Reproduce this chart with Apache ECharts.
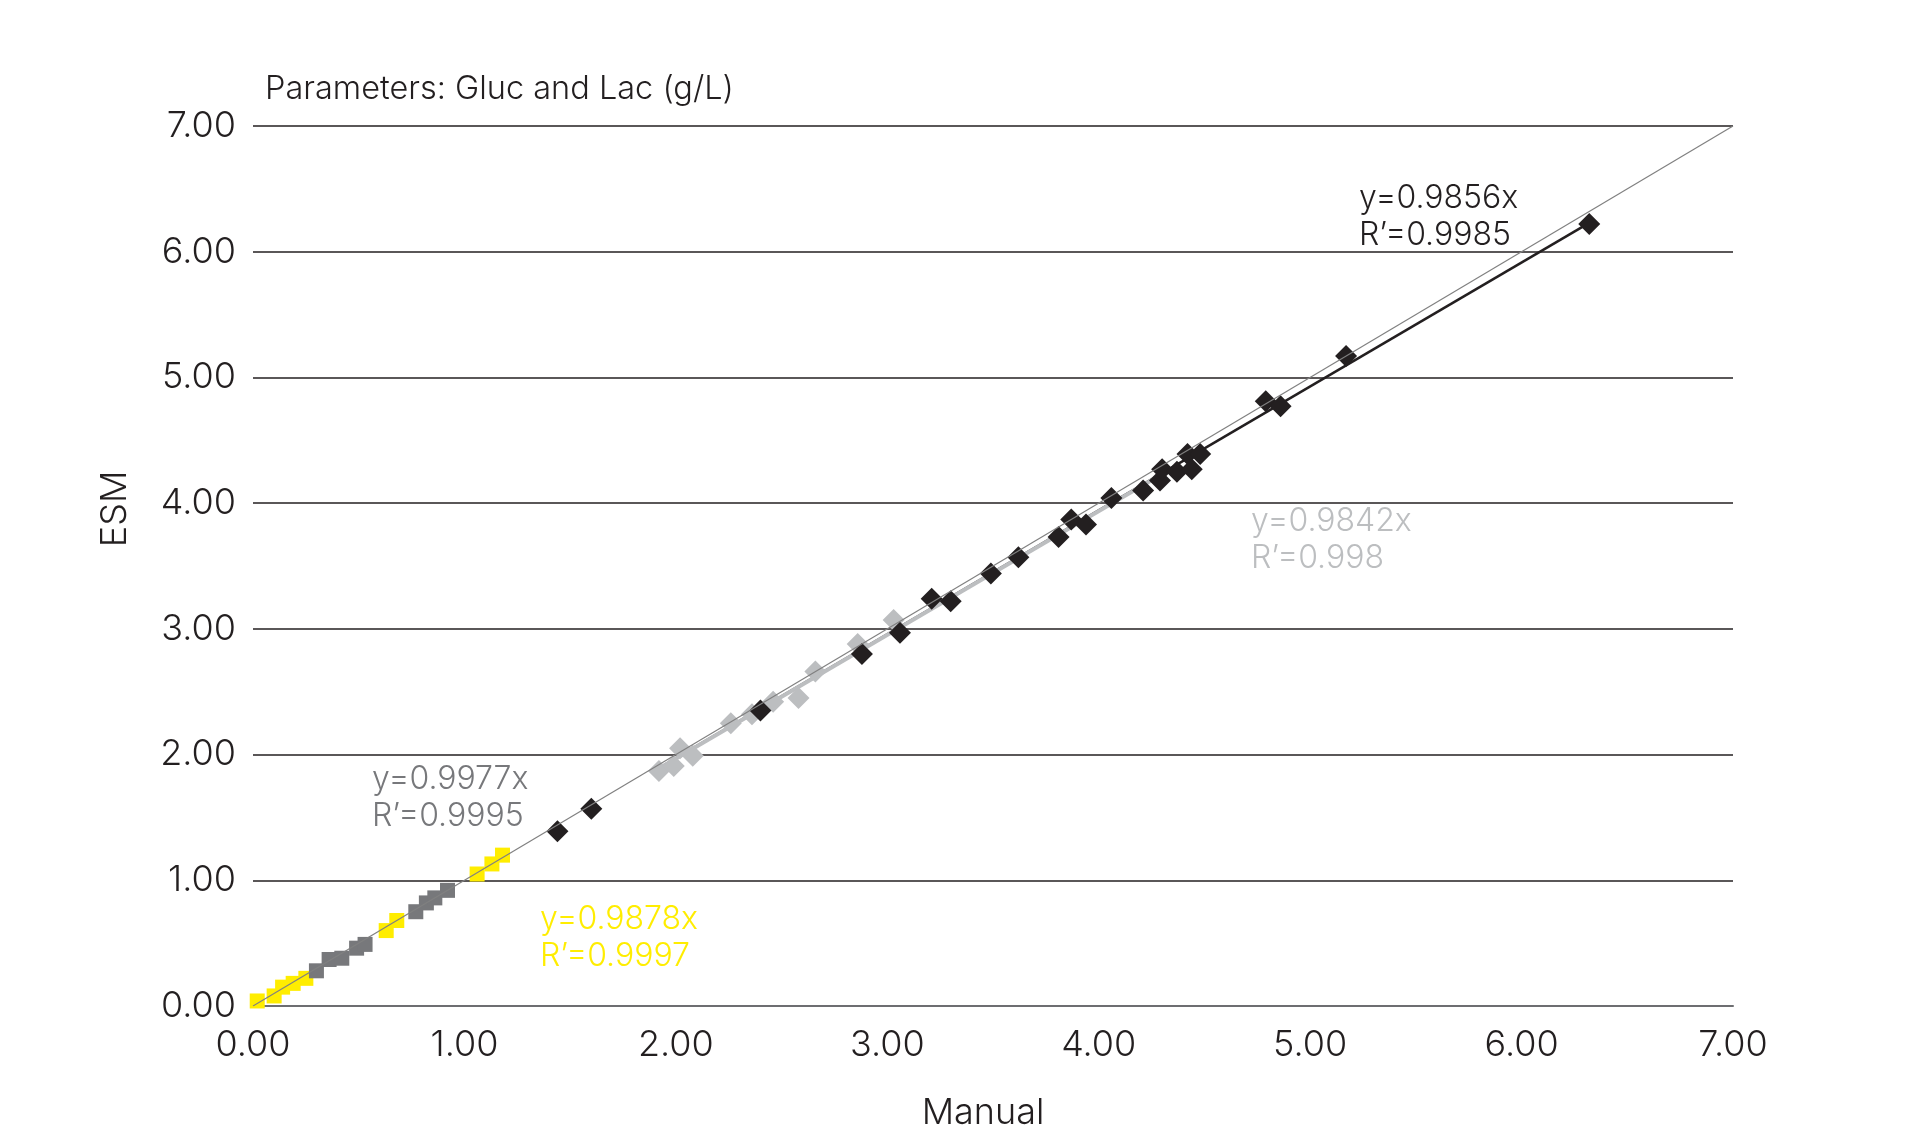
<!DOCTYPE html>
<html>
<head>
<meta charset="utf-8">
<script src="https://cdn.jsdelivr.net/npm/echarts@6/dist/echarts.min.js"></script>
<style>
  html, body { margin: 0; padding: 0; background: #fff; }
  #chart { width: 1908px; height: 1133px; }
</style>
</head>
<body>
<div id="chart"></div>
<script>
// Values: [Manual, ESM]
const yellowPoints = [
    [0.02, 0.04], [0.10, 0.08], [0.14, 0.15], [0.19, 0.18], [0.25, 0.22],
    [0.63, 0.60], [0.68, 0.68], [1.06, 1.05], [1.13, 1.13], [1.18, 1.20]
];
const darkGrayPoints = [
    [0.30, 0.28], [0.36, 0.37], [0.42, 0.38], [0.49, 0.46], [0.53, 0.49],
    [0.77, 0.75], [0.82, 0.82], [0.86, 0.86], [0.92, 0.92]
];
const lightGrayPoints = [
    [1.92, 1.87], [1.99, 1.91], [2.02, 2.05], [2.08, 1.99], [2.26, 2.25],
    [2.36, 2.32], [2.46, 2.42], [2.58, 2.45], [2.66, 2.66], [2.86, 2.88],
    [3.03, 3.07]
];
const blackPoints = [
    [1.44, 1.39], [1.60, 1.57], [2.40, 2.35], [2.88, 2.80], [3.06, 2.97],
    [3.21, 3.24], [3.30, 3.22], [3.49, 3.44], [3.62, 3.57], [3.81, 3.73],
    [3.87, 3.87], [3.94, 3.83], [4.06, 4.04], [4.21, 4.10], [4.29, 4.18],
    [4.30, 4.27], [4.37, 4.25], [4.42, 4.39], [4.44, 4.27], [4.48, 4.39],
    [4.79, 4.81], [4.86, 4.77], [5.17, 5.17], [6.32, 6.22]
];

// identity reference line and fitted lines (slopes as printed)
const identityLine = [[0, 0], [7, 7]];
const blackFit = { slope: 0.9856, from: 1.9, to: 6.32 };
const lightGrayFit = { slope: 0.9842, from: 1.9, to: 4.3 };

const fitLabels = [
    { text: 'y=0.9856x\nR’=0.9985', color: '#231f20', x: 1359, y: 217 },
    { text: 'y=0.9842x\nR’=0.998', color: '#bcbec0', x: 1251, y: 540 },
    { text: 'y=0.9977x\nR’=0.9995', color: '#77787b', x: 372, y: 798 },
    { text: 'y=0.9878x\nR’=0.9997', color: '#ffed00', x: 540, y: 938 }
];

const FONT = 'Inter';

function fitSegment(fit) {
    return [[fit.from, fit.slope * fit.from], [fit.to, fit.slope * fit.to]];
}

const chart = echarts.init(document.getElementById('chart'));

const option = {
    animation: false,
    backgroundColor: '#fff',
    textStyle: { fontFamily: FONT },
    grid: { left: 253, right: 175, top: 126, bottom: 127 },
    xAxis: {
        type: 'value',
        min: 0,
        max: 7,
        interval: 1,
        axisLine: { show: true, lineStyle: { color: '#6d6e71', width: 2 } },
        axisTick: { show: false },
        splitLine: { show: false },
        axisLabel: {
            formatter: v => v.toFixed(2),
            color: '#231f20',
            fontSize: 36,
            fontWeight: 300,
            fontFamily: FONT,
            margin: 21
        }
    },
    yAxis: {
        type: 'value',
        min: 0,
        max: 7,
        interval: 1,
        axisLine: { show: false },
        axisTick: { show: false },
        splitLine: { show: true, lineStyle: { color: '#231f20', width: 1.5 } },
        axisLabel: {
            formatter: v => v.toFixed(2),
            color: '#231f20',
            fontSize: 36,
            fontWeight: 300,
            fontFamily: FONT,
            margin: 17
        }
    },
    graphic: [
        {
            type: 'text', left: 265, top: 73,
            style: { text: 'Parameters: Gluc and Lac (g/L)', fill: '#231f20', font: '300 32.5px Inter' }
        },
        {
            type: 'text', x: 983, y: 1113,
            style: { text: 'Manual', fill: '#231f20', font: '300 36px Inter', align: 'center', verticalAlign: 'middle' }
        },
        {
            type: 'text', x: 115, y: 509, rotation: Math.PI / 2,
            style: { text: 'ESM', fill: '#231f20', font: '300 36px Inter', align: 'center', verticalAlign: 'middle' }
        }
    ].concat(fitLabels.map(l => ({
        type: 'text', x: l.x, y: l.y,
        style: {
            text: l.text, fill: l.color, font: '300 32px Inter',
            lineHeight: 37, align: 'left', verticalAlign: 'middle'
        }
    }))),
    series: [
        {
            name: 'Black fit',
            type: 'line',
            data: fitSegment(blackFit),
            symbol: 'none',
            lineStyle: { color: '#231f20', width: 2.5 },
            z: 2
        },
        {
            name: 'Light gray fit',
            type: 'line',
            data: fitSegment(lightGrayFit),
            symbol: 'none',
            lineStyle: { color: '#bcbec0', width: 4 },
            z: 3
        },
        {
            name: 'Yellow',
            type: 'scatter',
            data: yellowPoints,
            symbol: 'rect',
            symbolSize: 15,
            itemStyle: { color: '#ffed00', opacity: 1 },
            z: 4
        },
        {
            name: 'Dark gray',
            type: 'scatter',
            data: darkGrayPoints,
            symbol: 'rect',
            symbolSize: 15,
            itemStyle: { color: '#77787b', opacity: 1 },
            z: 5
        },
        {
            name: 'Light gray',
            type: 'scatter',
            data: lightGrayPoints,
            symbol: 'diamond',
            symbolSize: 22,
            itemStyle: { color: '#bcbec0', opacity: 1 },
            z: 4
        },
        {
            name: 'Black',
            type: 'scatter',
            data: blackPoints,
            symbol: 'diamond',
            symbolSize: 22,
            itemStyle: { color: '#231f20', opacity: 1 },
            z: 6
        },
        {
            name: 'Identity',
            type: 'line',
            data: identityLine,
            symbol: 'none',
            lineStyle: { color: '#808080', width: 1.2 },
            z: 7
        }
    ]
};

chart.setOption(option);
</script>
</body>
</html>
